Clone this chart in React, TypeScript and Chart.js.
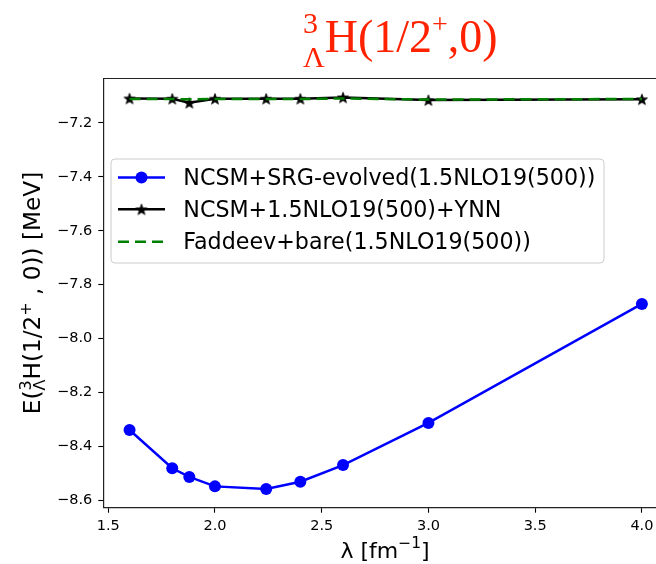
import React, { useEffect, useRef } from 'react';
import { Chart, registerables } from 'chart.js';

Chart.register(...registerables);

// ---- data ----
const lambdaValues = [1.6, 1.8, 1.88, 2.0, 2.24, 2.4, 2.6, 3.0, 4.0];
const srgEvolved = [-8.338, -8.48, -8.512, -8.547, -8.557, -8.53, -8.468, -8.312, -7.871];
const bareYnn = [-7.11, -7.111, -7.126, -7.111, -7.111, -7.111, -7.106, -7.116, -7.113];
const faddeevBare = [-7.112, -7.112, -7.113, -7.112, -7.112, -7.112, -7.11, -7.114, -7.112];
const seriesLabels = [
  'NCSM+SRG-evolved(1.5NLO19(500))',
  'NCSM+1.5NLO19(500)+YNN',
  'Faddeev+bare(1.5NLO19(500))',
];
const xTicks = [1.5, 2.0, 2.5, 3.0, 3.5, 4.0];
const yTicks = [-8.6, -8.4, -8.2, -8.0, -7.8, -7.6, -7.4, -7.2];

const SANS = "'DejaVu Sans', sans-serif";
const SERIF = "'Liberation Serif', 'Times New Roman', serif";
const AREA_RIGHT = 656;

function makeStar(r: number): HTMLCanvasElement {
  const c = document.createElement('canvas');
  const s = 14;
  c.width = s;
  c.height = s;
  const g = c.getContext('2d')!;
  g.translate(s / 2, s / 2 + 0.6);
  g.beginPath();
  for (let i = 0; i < 10; i++) {
    const rad = i % 2 === 0 ? r : r * 0.42;
    const a = -Math.PI / 2 + (i * Math.PI) / 5;
    g.lineTo(rad * Math.cos(a), rad * Math.sin(a));
  }
  g.closePath();
  g.fillStyle = '#000';
  g.fill();
  g.strokeStyle = '#000';
  g.lineWidth = 0.8;
  g.stroke();
  return c;
}

type Seg = { t: string; size: number; dy: number; stack?: { t: string; dy: number } };

function drawRich(ctx: CanvasRenderingContext2D, segs: Seg[], family: string, x0: number, baseline: number, align: 'left' | 'center') {
  const widths = segs.map((s) => {
    ctx.font = `${s.size}px ${family}`;
    let w = ctx.measureText(s.t).width;
    if (s.stack) w = Math.max(w, ctx.measureText(s.stack.t).width);
    return w;
  });
  const total = widths.reduce((a, b) => a + b, 0);
  let x = align === 'center' ? x0 - total / 2 : x0;
  ctx.textAlign = 'left';
  ctx.textBaseline = 'alphabetic';
  segs.forEach((s, i) => {
    ctx.font = `${s.size}px ${family}`;
    ctx.fillText(s.t, x, baseline + s.dy);
    if (s.stack) ctx.fillText(s.stack.t, x, baseline + s.stack.dy);
    x += widths[i];
  });
}

const areaFixPlugin = {
  id: 'areaFix',
  afterLayout(chart: any) {
    const a = chart.chartArea;
    a.right = AREA_RIGHT;
    a.width = AREA_RIGHT - a.left;
    const x = chart.scales.x;
    x.right = AREA_RIGHT;
    x.width = AREA_RIGHT - x.left;
    x.configure();
  },
};

const decorPlugin = {
  id: 'decor',
  afterDraw(chart: any) {
    const ctx: CanvasRenderingContext2D = chart.ctx;
    const a = chart.chartArea;
    ctx.save();
    // top spine
    ctx.strokeStyle = '#222';
    ctx.lineWidth = 1.2;
    ctx.beginPath();
    ctx.moveTo(a.left, a.top);
    ctx.lineTo(a.right, a.top);
    ctx.stroke();

    // title
    ctx.fillStyle = '#ff2200';
    drawRich(
      ctx,
      [
        { t: '3', size: 30, dy: -19, stack: { t: 'Λ', dy: 15 } },
        { t: 'H(1/2', size: 46, dy: 0 },
        { t: '+', size: 28, dy: -19 },
        { t: ',0)', size: 46, dy: 0 },
      ],
      SERIF,
      303,
      52,
      'left'
    );

    // x label
    ctx.fillStyle = '#000';
    drawRich(
      ctx,
      [
        { t: 'λ [fm', size: 22, dy: 0 },
        { t: '−1', size: 15.5, dy: -10 },
        { t: ']', size: 22, dy: 0 },
      ],
      SANS,
      385,
      558,
      'center'
    );

    // y label
    ctx.save();
    ctx.translate(40, 293);
    ctx.rotate(-Math.PI / 2);
    drawRich(
      ctx,
      [
        { t: 'E(', size: 23.2, dy: 0 },
        { t: '3', size: 16, dy: -9.5, stack: { t: 'Λ', dy: 5 } },
        { t: 'H(1/2', size: 23.2, dy: 0 },
        { t: '+', size: 16, dy: -9.5 },
        { t: ' , 0)) [MeV]', size: 23.2, dy: 0 },
      ],
      SANS,
      0,
      0,
      'center'
    );
    ctx.restore();

    // legend
    const bx = 111, by = 159, bw = 493, bh = 104, r = 4;
    ctx.beginPath();
    ctx.moveTo(bx + r, by);
    ctx.lineTo(bx + bw - r, by);
    ctx.arcTo(bx + bw, by, bx + bw, by + r, r);
    ctx.lineTo(bx + bw, by + bh - r);
    ctx.arcTo(bx + bw, by + bh, bx + bw - r, by + bh, r);
    ctx.lineTo(bx + r, by + bh);
    ctx.arcTo(bx, by + bh, bx, by + bh - r, r);
    ctx.lineTo(bx, by + r);
    ctx.arcTo(bx, by, bx + r, by, r);
    ctx.closePath();
    ctx.fillStyle = 'rgba(255,255,255,0.8)';
    ctx.fill();
    ctx.strokeStyle = '#cccccc';
    ctx.lineWidth = 1;
    ctx.stroke();

    const ds = chart.data.datasets;
    const baselines = [185, 216.8, 249.3];
    const hx0 = 118, hx1 = 165;
    ds.forEach((d: any, i: number) => {
      const yb = baselines[i];
      const hy = yb - 7.5;
      ctx.save();
      ctx.strokeStyle = d.borderColor;
      ctx.lineWidth = d.borderWidth;
      ctx.setLineDash(d.borderDash || []);
      ctx.beginPath();
      ctx.moveTo(hx0, hy);
      ctx.lineTo(hx1, hy);
      ctx.stroke();
      ctx.setLineDash([]);
      const mx = (hx0 + hx1) / 2;
      if (d.pointRadius > 0) {
        if (d.pointStyle === 'circle') {
          ctx.fillStyle = d.backgroundColor;
          ctx.beginPath();
          ctx.arc(mx, hy, d.pointRadius, 0, Math.PI * 2);
          ctx.fill();
        } else {
          const img = d.pointStyle as HTMLCanvasElement;
          ctx.drawImage(img, mx - img.width / 2, hy - img.height / 2);
        }
      }
      ctx.restore();
      ctx.fillStyle = '#000';
      ctx.font = `22.2px ${SANS}`;
      ctx.textAlign = 'left';
      ctx.textBaseline = 'alphabetic';
      ctx.fillText(seriesLabels[i], 183.3, yb);
    });
    ctx.restore();
  },
};

export default function App() {
  const ref = useRef<HTMLCanvasElement | null>(null);
  useEffect(() => {
    if (!ref.current) return;
    const star = makeStar(5.8);
    const toPts = (ys: number[]) => lambdaValues.map((x, i) => ({ x, y: ys[i] }));
    const tickFont = { family: SANS, size: 14.5 };
    const chart = new Chart(ref.current, {
      type: 'line',
      data: {
        datasets: [
          {
            label: seriesLabels[0],
            data: toPts(srgEvolved),
            borderColor: '#0000ff',
            backgroundColor: '#0000ff',
            borderWidth: 2.5,
            pointRadius: 6,
            pointStyle: 'circle',
            pointBorderWidth: 0,
            tension: 0,
            order: 3,
          },
          {
            label: seriesLabels[1],
            data: toPts(bareYnn),
            borderColor: '#000000',
            backgroundColor: '#000000',
            borderWidth: 2.5,
            pointRadius: 6,
            pointStyle: star as any,
            pointBorderWidth: 0,
            tension: 0,
            order: 2,
          },
          {
            label: seriesLabels[2],
            data: toPts(faddeevBare),
            borderColor: '#008000',
            backgroundColor: '#008000',
            borderWidth: 2.5,
            borderDash: [11, 6],
            pointRadius: 0,
            tension: 0,
            order: 1,
          },
        ] as any,
      },
      options: {
        animation: false,
        responsive: false,
        maintainAspectRatio: false,
        layout: { padding: { left: 0, top: 78.5, right: 0, bottom: 0 } },
        plugins: { legend: { display: false }, tooltip: { enabled: false }, title: { display: false } },
        scales: {
          x: {
            type: 'linear',
            min: 1.477,
            max: 4.066,
            afterBuildTicks: (s: any) => {
              s.ticks = xTicks.map((v) => ({ value: v }));
            },
            afterFit: (s: any) => {
              s.height = 56.3;
              s.paddingLeft = 0;
              s.paddingRight = 0;
            },
            ticks: {
              font: tickFont,
              color: '#000',
              padding: 5,
              maxRotation: 0,
              autoSkip: false,
              callback: (v: any) => Number(v).toFixed(1),
            },
            grid: { drawOnChartArea: false, drawTicks: true, tickLength: 5, color: '#000', tickWidth: 1.1 },
            border: { display: true, color: '#222', width: 1.2 },
          },
          y: {
            type: 'linear',
            min: -8.626,
            max: -7.036,
            afterBuildTicks: (s: any) => {
              s.ticks = yTicks.map((v) => ({ value: v }));
            },
            afterFit: (s: any) => {
              s.width = 103.3;
              s.paddingTop = 0;
              s.paddingBottom = 0;
            },
            ticks: {
              font: tickFont,
              color: '#000',
              padding: 6,
              autoSkip: false,
              callback: (v: any) => (Number(v) < 0 ? '−' : '') + Math.abs(Number(v)).toFixed(1),
            },
            grid: { drawOnChartArea: false, drawTicks: true, tickLength: 5, color: '#000', tickWidth: 1.1 },
            border: { display: true, color: '#222', width: 1.2 },
          },
        },
      } as any,
      plugins: [areaFixPlugin, decorPlugin],
    });
    return () => chart.destroy();
  }, []);
  return (
    <div style={{ position: 'absolute', left: 0, top: 0, width: 656, height: 564, background: '#fff' }}>
      <canvas ref={ref} width={656} height={564} style={{ display: 'block' }} />
    </div>
  );
}
